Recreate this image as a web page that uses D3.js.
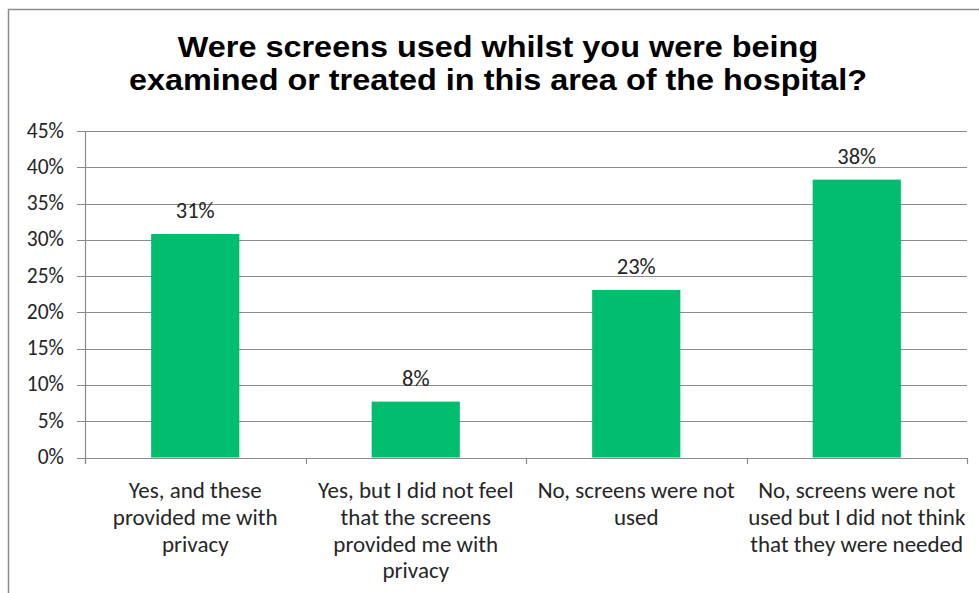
<!DOCTYPE html>
<html>
<head>
<meta charset="utf-8">
<style>
  body { margin: 0; background: #fff; }
  svg { display: block; }
  .title { font-family: "Liberation Sans", Arial, sans-serif; font-weight: bold; font-size: 30px; fill: #000; }
  .tick-label, .value-label, .cat-label { font-family: Carlito, "Liberation Sans Narrow", "Open Sans", sans-serif; fill: #262626; }
  .tick-label { font-size: 21.5px; }
  .value-label { font-size: 22.5px; }
  .cat-label { font-size: 23px; }
</style>
</head>
<body>
<script src="https://d3js.org/d3.v7.min.js"></script>
<script>

var width = 979,
    height = 593;

// data
var titleLines = ["Were screens used whilst you were being",
                  "examined or treated in this area of the hospital?"];
var categories = ["Yes, and these\nprovided me with\nprivacy",
                  "Yes, but I did not feel\nthat the screens\nprovided me with\nprivacy",
                  "No, screens were not\nused",
                  "No, screens were not\nused but I did not think\nthat they were needed"];
var values = [0.308, 0.077, 0.231, 0.383];
var yTicks = [0, 0.05, 0.10, 0.15, 0.20, 0.25, 0.30, 0.35, 0.40, 0.45];

var plot = {left: 85, right: 967, top: 131, bottom: 457.5};

var svg = d3.select("body").append("svg")
    .attr("width", width)
    .attr("height", height);

// chart border
svg.append("rect")
    .attr("x", 8.5)
    .attr("y", 9.5)
    .attr("width", width)
    .attr("height", height)
    .attr("fill", "#fff")
    .attr("stroke", "#8c8c8c")
    .attr("stroke-width", 1.5);

// title (slightly stretched, like the source)
svg.selectAll(".title")
    .data(titleLines)
    .enter()
    .append("text")
    .attr("class", "title")
    .attr("transform", function(d, i) { return "translate(498," + (57 + i * 33) + ") scale(1.08,1)"; })
    .attr("text-anchor", "middle")
    .text(function(d) { return d; });

var x = d3.scaleBand()
    .domain(categories)
    .range([plot.left, plot.right])
    .paddingInner(0.6)
    .paddingOuter(0.3);

var y = d3.scaleLinear()
    .domain([0, 0.45])
    .range([plot.bottom, plot.top]);

// gridlines
svg.selectAll(".grid")
    .data(yTicks)
    .enter()
    .append("line")
    .attr("class", "grid")
    .attr("x1", plot.left - 8)
    .attr("x2", plot.right)
    .attr("y1", function(d) { return Math.round(y(d)) + 0.5; })
    .attr("y2", function(d) { return Math.round(y(d)) + 0.5; })
    .attr("stroke", "#8a8a8a")
    .attr("stroke-width", 1.2);

// y axis line
svg.append("line")
    .attr("x1", plot.left + 0.5)
    .attr("x2", plot.left + 0.5)
    .attr("y1", Math.round(y(0.45)))
    .attr("y2", Math.round(y(0)) + 6)
    .attr("stroke", "#8a8a8a")
    .attr("stroke-width", 1.2);

// x category ticks
var step = x.step();
svg.selectAll(".xtick")
    .data(d3.range(categories.length + 1))
    .enter()
    .append("line")
    .attr("class", "xtick")
    .attr("x1", function(i) { return Math.round(plot.left + i * step) + 0.5; })
    .attr("x2", function(i) { return Math.round(plot.left + i * step) + 0.5; })
    .attr("y1", Math.round(y(0)))
    .attr("y2", Math.round(y(0)) + 6)
    .attr("stroke", "#8a8a8a")
    .attr("stroke-width", 1.2);

// y labels
svg.selectAll(".tick-label")
    .data(yTicks)
    .enter()
    .append("text")
    .attr("class", "tick-label")
    .attr("x", 64)
    .attr("y", function(d) { return y(d) + 6.5; })
    .attr("text-anchor", "end")
    .text(function(d) { return Math.round(d * 100) + "%"; });

// bars
svg.selectAll(".bar")
    .data(values)
    .enter()
    .append("rect")
    .attr("class", "bar")
    .attr("x", function(d, i) { return x(categories[i]); })
    .attr("width", x.bandwidth())
    .attr("y", function(d) { return y(d); })
    .attr("height", function(d) { return y(0) - y(d); })
    .attr("fill", "#00be6e");

// value labels
svg.selectAll(".value-label")
    .data(values)
    .enter()
    .append("text")
    .attr("class", "value-label")
    .attr("x", function(d, i) { return x(categories[i]) + x.bandwidth() / 2; })
    .attr("y", function(d) { return y(d) - 16; })
    .attr("text-anchor", "middle")
    .text(function(d) { return Math.round(d * 100) + "%"; });

// category labels
var cats = svg.selectAll(".cat-label")
    .data(categories)
    .enter()
    .append("text")
    .attr("class", "cat-label")
    .attr("text-anchor", "middle");

cats.each(function(d) {
  var node = d3.select(this);
  var cx = x(d) + x.bandwidth() / 2;
  d.split("\n").forEach(function(line, j) {
    node.append("tspan")
      .attr("x", cx)
      .attr("y", 498 + j * 26.8)
      .text(line);
  });
});

</script>
</body>
</html>
